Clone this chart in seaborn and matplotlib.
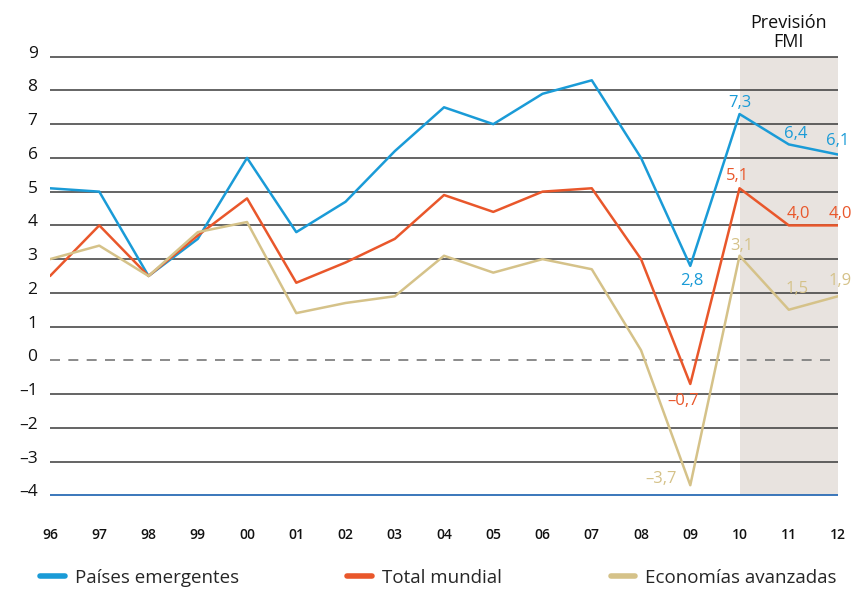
import pandas as pd
import matplotlib.pyplot as plt
import matplotlib.transforms as mtransforms
import seaborn as sns

# Datos (% crecimiento PIB)
years = ['96', '97', '98', '99', '00', '01', '02', '03', '04', '05', '06', '07', '08', '09', '10', '11', '12']
emergentes = [5.1, 5.0, 2.5, 3.6, 6.0, 3.8, 4.7, 6.2, 7.5, 7.0, 7.9, 8.3, 6.0, 2.8, 7.3, 6.4, 6.1]
mundial = [2.5, 4.0, 2.5, 3.7, 4.8, 2.3, 2.9, 3.6, 4.9, 4.4, 5.0, 5.1, 3.0, -0.7, 5.1, 4.0, 4.0]
avanzadas = [3.0, 3.4, 2.5, 3.8, 4.1, 1.4, 1.7, 1.9, 3.1, 2.6, 3.0, 2.7, 0.3, -3.7, 3.1, 1.5, 1.9]
series_names = ['Países emergentes', 'Total mundial', 'Economías avanzadas']
colors = ['#1a9bd7', '#e9572b', '#d5c289']
y_ticks = list(range(-4, 10))
forecast_start, forecast_end = 14, 16

df = pd.DataFrame({'idx': list(range(len(years))) * 3,
                   'valor': emergentes + mundial + avanzadas,
                   'serie': [s for s in series_names for _ in years]})

sns.set_style('white')
plt.rcParams['font.family'] = ['Open Sans', 'DejaVu Sans']

fig = plt.figure(figsize=(8.67, 5.90), dpi=100)
ax = fig.add_axes([0.0577, 0.1576, 0.9089, 0.7492])

# shaded forecast area (from -4 to 9)
ax.fill_between([forecast_start, forecast_end], -4, 9, color='#e8e3df', zorder=0, lw=0)

# gridlines
for v in y_ticks:
    if v == 0:
        ax.axhline(v, color='#777777', lw=1.2, ls=(0, (6, 5)), zorder=1)
    elif v == -4:
        ax.axhline(v, color='#2b6cb5', lw=1.3, zorder=1)
    else:
        ax.axhline(v, color='#3a3a3a', lw=1.1, zorder=1)

sns.lineplot(data=df, x='idx', y='valor', hue='serie', palette=colors,
             hue_order=series_names, lw=1.8, ax=ax, legend=False, zorder=3)

ax.set_xlim(0, len(years) - 1)
ax.set_ylim(-4.05, 9.05)
ax.set_xticks(range(len(years)))
ax.set_xticklabels(years, fontsize=10, fontweight='semibold', color='#111111')
ax.set_yticks(y_ticks)
ax.set_yticklabels([str(v).replace('-', '–') for v in y_ticks], fontsize=12.5, color='#111111')
ax.tick_params(axis='x', length=0, pad=22)
ax.tick_params(axis='y', length=0, pad=9)
offset = mtransforms.ScaledTranslation(0, 5 / 100, fig.dpi_scale_trans)
for lbl in ax.get_yticklabels():
    lbl.set_transform(lbl.get_transform() + offset)
for s in ax.spines.values():
    s.set_visible(False)
ax.set_xlabel('')
ax.set_ylabel('')

ax.annotate('Previsión\nFMI', ((forecast_start + forecast_end) / 2, 9), xytext=(0, 4),
            textcoords='offset points', ha='center', va='bottom',
            fontsize=13, color='#111111', linespacing=1.1, annotation_clip=False)


def fmt(v):
    return f'{v:.1f}'.replace('.', ',').replace('-', '–')


# value labels: (series, index, dx, dy, ha, color) -- offsets in points to the baseline
labels = [
    (emergentes, 14, 0, 5, 'center', colors[0]),
    (emergentes, 15, 5, 4.3, 'center', colors[0]),
    (emergentes, 16, 0, 7, 'center', colors[0]),
    (emergentes, 13, 1, -13.7, 'center', colors[0]),
    (mundial, 14, -1.4, 5.8, 'center', colors[1]),
    (mundial, 15, 7, 5, 'center', colors[1]),
    (mundial, 16, 1.4, 5, 'center', colors[1]),
    (mundial, 13, -5, -15, 'center', colors[1]),
    (avanzadas, 14, 1.4, 4.3, 'center', colors[2]),
    (avanzadas, 15, 5.8, 12, 'center', colors[2]),
    (avanzadas, 16, 1.4, 8, 'center', colors[2]),
    (avanzadas, 13, -9.4, 1.4, 'right', colors[2]),
]
for ser, i, dx, dy, ha, c in labels:
    ax.annotate(fmt(ser[i]), (i, ser[i]), xytext=(dx, dy), textcoords='offset points',
                ha=ha, va='baseline', fontsize=12, color=c, zorder=4, annotation_clip=False)

handles = [plt.Line2D([0], [0], color=c, lw=4, solid_capstyle='round') for c in colors]
fig.legend(handles, series_names, loc='center left', bbox_to_anchor=(40 / 867, 0.0203),
           ncol=3, frameon=False, fontsize=13.5, handlelength=1.33,
           handletextpad=0.53, columnspacing=5.78, borderpad=0, borderaxespad=0)

fig.savefig('out.png', dpi=100)
